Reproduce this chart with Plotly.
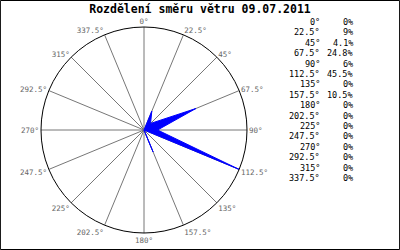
import plotly.graph_objects as go

directions = [0, 22.5, 45, 67.5, 90, 112.5, 135, 157.5, 180, 202.5, 225, 247.5, 270, 292.5, 315, 337.5]
dir_labels = ["0°", "22.5°", "45°", "67.5°", "90°", "112.5°", "135°", "157.5°", "180°",
              "202.5°", "225°", "247.5°", "270°", "292.5°", "315°", "337.5°"]
values = [0, 9, 4.1, 24.8, 6, 45.5, 0, 10.5, 0, 0, 0, 0, 0, 0, 0, 0]
value_labels = ["0%", "9%", "4.1%", "24.8%", "6%", "45.5%", "0%", "10.5%", "0%",
                "0%", "0%", "0%", "0%", "0%", "0%", "0%"]
title = "Rozdělení směru větru 09.07.2011"

fig = go.Figure()
fig.add_trace(go.Scatterpolar(
    r=values + values[:1],
    theta=directions + directions[:1],
    mode="lines",
    fill="toself",
    fillcolor="#0000ff",
    line=dict(color="#0000ff", width=1),
    hoverinfo="skip",
))

mono = "DejaVu Sans Mono"
fig.update_layout(
    width=400, height=250,
    margin=dict(l=0, r=0, t=0, b=0),
    paper_bgcolor="white",
    plot_bgcolor="white",
    showlegend=False,
    title=dict(text="<b>" + title + "</b>", x=0.5, xanchor="center", y=1 - 9 / 250, yanchor="middle",
               font=dict(family=mono, size=11.5, color="black")),
    polar=dict(
        domain=dict(x=[41 / 400, 247 / 400], y=[1 - 233 / 250, 1 - 27 / 250]),
        bgcolor="white",
        radialaxis=dict(visible=False, range=[0, max(values)], showgrid=False),
        angularaxis=dict(
            direction="clockwise", rotation=90,
            tickmode="array", tickvals=directions, ticktext=dir_labels,
            showline=True, linecolor="black", linewidth=1,
            showgrid=True, gridcolor="#777777", gridwidth=1,
            ticks="",
            tickfont=dict(family=mono, size=7.5, color="#666666"),
        ),
    ),
)

row0 = 22
step = 10.4
for i, (d, v) in enumerate(zip(dir_labels, value_labels)):
    y = 1 - (row0 + i * step) / 250
    fig.add_annotation(x=322 / 400, y=y, xref="paper", yref="paper", text=d, showarrow=False,
                       xanchor="right", yanchor="middle",
                       font=dict(family=mono, size=8.5, color="black"))
    fig.add_annotation(x=355 / 400, y=y, xref="paper", yref="paper", text=v, showarrow=False,
                       xanchor="right", yanchor="middle",
                       font=dict(family=mono, size=8.5, color="black"))

fig.add_shape(type="rect", xref="paper", yref="paper", x0=0.001, y0=0.002, x1=0.999, y1=0.998,
              line=dict(color="black", width=1))

fig.write_html("out.html")
